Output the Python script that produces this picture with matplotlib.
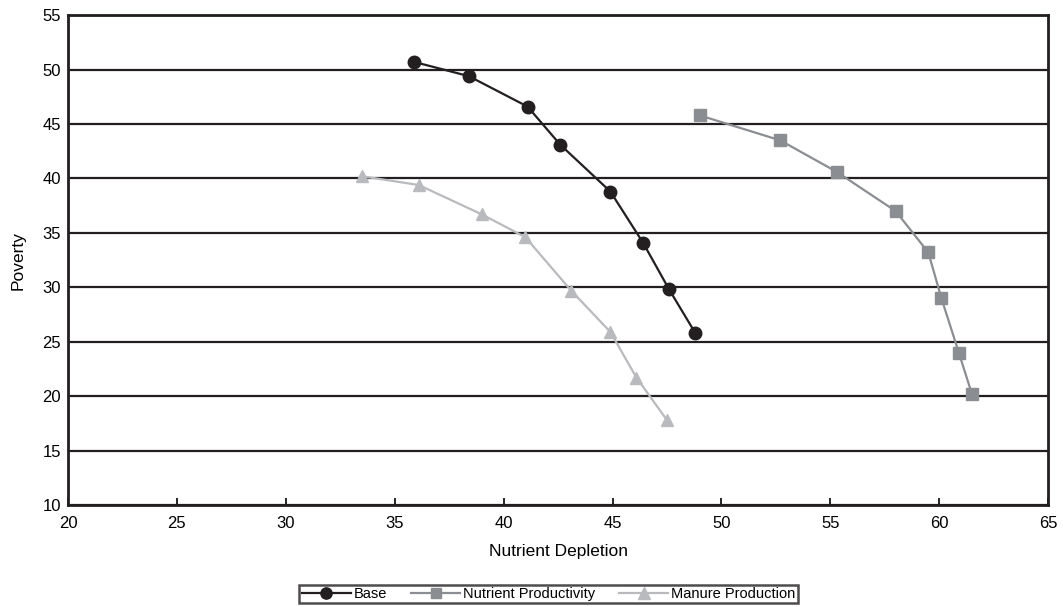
import matplotlib
matplotlib.use("Agg")
import matplotlib.pyplot as plt

# Data
base_x = [35.9, 38.4, 41.1, 42.6, 44.9, 46.4, 47.6, 48.8]
base_y = [50.7, 49.4, 46.6, 43.1, 38.8, 34.1, 29.8, 25.8]

nutr_x = [49.0, 52.7, 55.3, 58.0, 59.5, 60.1, 60.9, 61.5]
nutr_y = [45.8, 43.5, 40.6, 37.0, 33.2, 29.0, 24.0, 20.2]

manure_x = [33.5, 36.1, 39.0, 41.0, 43.1, 44.9, 46.1, 47.5]
manure_y = [40.2, 39.4, 36.7, 34.6, 29.7, 25.9, 21.7, 17.8]

x_ticks = [20, 25, 30, 35, 40, 45, 50, 55, 60, 65]
y_ticks = [10, 15, 20, 25, 30, 35, 40, 45, 50, 55]

BLACK = "#231f20"
MID_GRAY = "#8a8d92"
LIGHT_GRAY = "#b8babd"

plt.rcParams["font.family"] = ["Liberation Sans", "DejaVu Sans"]

fig = plt.figure(figsize=(10.63, 6.07), dpi=100)
ax = fig.add_axes([0.064, 0.168, 0.922, 0.807])

# horizontal grid lines
for y in y_ticks:
    ax.axhline(y, color=BLACK, linewidth=1.6, zorder=1)

ax.plot(base_x, base_y, color=BLACK, linewidth=1.6, marker="o", markersize=9,
        label="Base", zorder=3)
ax.plot(nutr_x, nutr_y, color=MID_GRAY, linewidth=1.6, marker="s", markersize=8.5,
        label="Nutrient Productivity", zorder=3)
ax.plot(manure_x, manure_y, color=LIGHT_GRAY, linewidth=1.6, marker="^", markersize=9,
        label="Manure Production", zorder=3)

ax.set_xlim(20, 65)
ax.set_ylim(10, 55)
ax.set_xticks(x_ticks)
ax.set_yticks(y_ticks)
ax.tick_params(axis="x", direction="in", length=5, width=1.2, labelsize=12, pad=8)
ax.tick_params(axis="y", length=0, labelsize=12, pad=5)
for s in ax.spines.values():
    s.set_linewidth(2)
    s.set_color(BLACK)

ax.set_xlabel("Nutrient Depletion", fontsize=12.5, labelpad=9)
ax.set_ylabel("Poverty", fontsize=12.5, labelpad=12)

leg = fig.legend(loc="center", bbox_to_anchor=(0.516, 0.021), ncol=3, fontsize=10.5,
                 frameon=True, fancybox=False, edgecolor=BLACK, handlelength=3.4,
                 handletextpad=0.2, columnspacing=1.6, borderpad=0.15, markerscale=0.9,
                 borderaxespad=0)
leg.get_frame().set_linewidth(1.8)

fig.savefig("out.png", dpi=100)
